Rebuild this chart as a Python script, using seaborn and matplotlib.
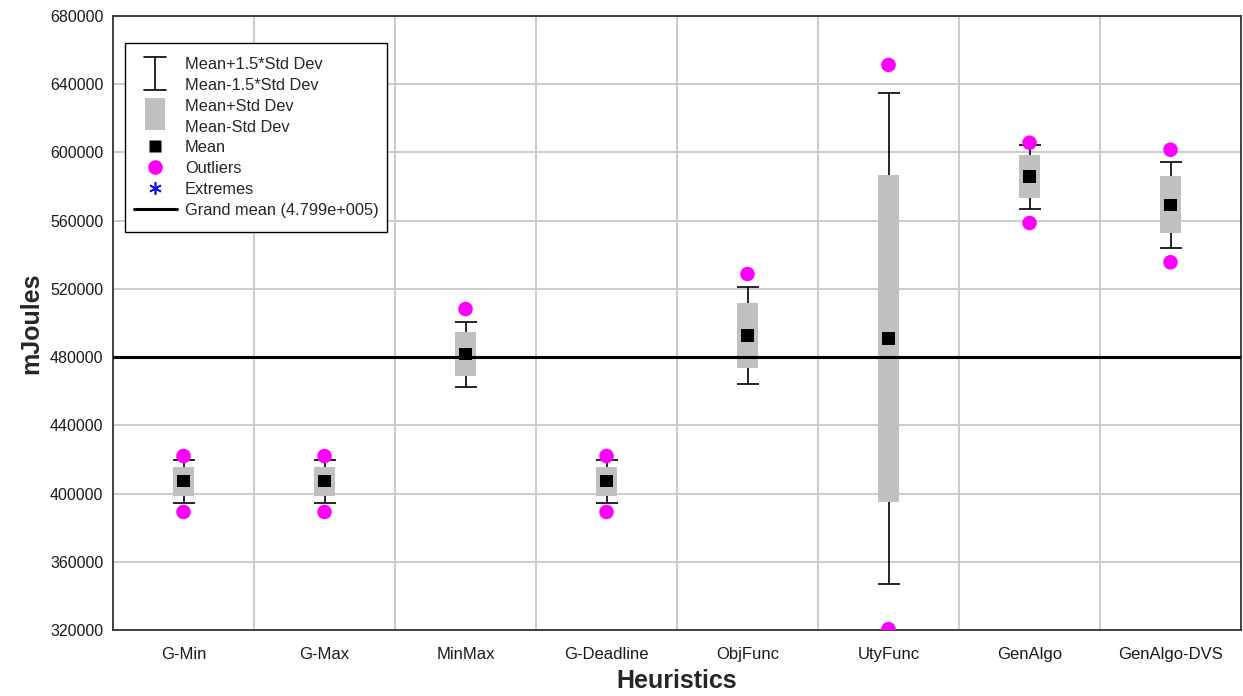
import numpy as np
import pandas as pd
import matplotlib
matplotlib.use("Agg")
import matplotlib.pyplot as plt
import seaborn as sns
from matplotlib.legend_handler import HandlerBase
from matplotlib.lines import Line2D
from matplotlib.patches import Rectangle
from matplotlib.path import Path

# ---------------- data ----------------
categories = ['G-Min', 'G-Max', 'MinMax', 'G-Deadline', 'ObjFunc', 'UtyFunc', 'GenAlgo', 'GenAlgo-DVS']
means = [407200, 407200, 481800, 407200, 492700, 490800, 585800, 569200]
std_devs = [8500, 8500, 12700, 8500, 18800, 95900, 12500, 16700]
outlier_cats = ['G-Min', 'G-Min', 'G-Max', 'G-Max', 'MinMax', 'G-Deadline', 'G-Deadline',
                'ObjFunc', 'UtyFunc', 'UtyFunc', 'GenAlgo', 'GenAlgo', 'GenAlgo-DVS', 'GenAlgo-DVS']
outlier_vals = [422000, 389200, 422000, 389200, 508200, 422000, 389200,
                528700, 651300, 320500, 605700, 558600, 601600, 535600]
grand_mean = 479900
y_ticks = [320000, 360000, 400000, 440000, 480000, 520000, 560000, 600000, 640000, 680000]

# ---------------- style ----------------
sns.set_style("white")
plt.rcParams['font.family'] = ['Liberation Sans', 'DejaVu Sans']

pos = {c: i for i, c in enumerate(categories)}
df = pd.DataFrame({'cat': categories, 'x': np.arange(len(categories)),
                   'mean': means, 'std': std_devs})
df['lo'] = df['mean'] - df['std']
df['hi'] = df['mean'] + df['std']
out_df = pd.DataFrame({'cat': outlier_cats, 'val': outlier_vals})
out_df['x'] = out_df['cat'].map(pos)

fig = plt.figure(figsize=(12.43, 6.96), dpi=100)
ax = fig.add_axes([113 / 1243, 1 - 630 / 696, (1241 - 113) / 1243, (630 - 16) / 696])

box_color = '#c0c0c0'
# whiskers: mean +/- 1.5 std
ax.errorbar(df['x'], df['mean'], yerr=1.5 * df['std'], fmt='none', ecolor='black',
            elinewidth=1.2, capsize=7.6, capthick=1.2, zorder=2)
# boxes: mean +/- std
ax.bar(df['x'], df['hi'] - df['lo'], bottom=df['lo'], width=0.15,
       color=box_color, edgecolor='none', zorder=3)
# grand mean
ax.axhline(grand_mean, color='black', lw=2.2, zorder=3.5)
# means
sns.scatterplot(data=df, x='x', y='mean', marker='s', s=80, color='black',
                edgecolor='none', ax=ax, zorder=5, legend=False)
# outliers
sns.scatterplot(data=out_df, x='x', y='val', marker='o', s=110, color='#ff00ff',
                edgecolor='none', ax=ax, zorder=5, legend=False)

ax.set_xlim(-0.5, len(categories) - 0.5)
ax.set_ylim(y_ticks[0], y_ticks[-1])
ax.set_yticks(y_ticks)
ax.set_yticklabels([str(v) for v in y_ticks])
ax.set_xticks(np.arange(len(categories)))
ax.set_xticklabels(categories)
ax.set_xticks(np.arange(len(categories) - 1) + 0.5, minor=True)
ax.grid(False)
ax.yaxis.grid(True, which='major', color='#c8c8c8', lw=1.3)
ax.xaxis.grid(True, which='minor', color='#c8c8c8', lw=1.3)
ax.set_axisbelow(True)
ax.tick_params(axis='both', which='both', length=0, colors='#1a1a1a')
ax.tick_params(axis='x', pad=12, labelsize=12)
ax.tick_params(axis='y', pad=7, labelsize=11.5)
for s in ax.spines.values():
    s.set_color('#333333')
    s.set_linewidth(1.3)

ax.set_xlabel('Heuristics', fontsize=18, fontweight='bold', labelpad=5)
ax.set_ylabel('mJoules', fontsize=18, fontweight='bold', labelpad=5)

LEG_FS = 11.8
LEG_LS = 0.30


# ---------------- legend ----------------
class SpanHandler(HandlerBase):
    def __init__(self, kind):
        super().__init__()
        self.kind = kind

    def create_artists(self, legend, orig_handle, xdescent, ydescent, width, height, fontsize, trans):
        p = (1.04 + legend.labelspacing) * fontsize
        cx = -xdescent + width / 2
        cy = -ydescent + height / 2
        hw = 7.8
        if self.kind == 'whisker':
            top = cy + 0.28 * p
            bot = cy - p - 0.22 * p
            arts = [Line2D([cx, cx], [bot, top]),
                    Line2D([cx - hw, cx + hw], [top, top]),
                    Line2D([cx - hw, cx + hw], [bot, bot])]
            for a in arts:
                a.set_color('black')
                a.set_linewidth(1.2)
                a.set_transform(trans)
            return arts
        elif self.kind == 'box':
            top = cy + 0.3 * p
            bot = cy - p - 0.12 * p
            r = Rectangle((cx - 7.2, bot), 14.4, top - bot, facecolor=box_color,
                          edgecolor='none', transform=trans)
            return [r]
        blank = Line2D([cx], [cy], ls='none', marker='none')
        blank.set_visible(False)
        blank.set_transform(trans)
        return [blank]


class Blank:
    pass


def tall_frame(x0, y0, width, height, mutation_size):
    # square frame with a little extra room above and below the entries
    top = y0 + height + 0.245 * mutation_size
    bot = y0 - 0.30 * mutation_size
    return Path([(x0, bot), (x0 + width, bot), (x0 + width, top), (x0, top), (x0, bot)],
                closed=True)


h_wh, h_wh2, h_bx, h_bx2 = Blank(), Blank(), Blank(), Blank()
h_mean = Line2D([], [], ls='none', marker='s', ms=9, color='black', mec='none')
h_out = Line2D([], [], ls='none', marker='o', ms=10.5, color='#ff00ff', mec='none')
h_ext = Line2D([], [], ls='none', marker=(6, 2, 0), ms=9, color='#1010e0', mew=1.2)
h_gm = Line2D([], [], color='black', lw=2.2)
handles = [h_wh, h_wh2, h_bx, h_bx2, h_mean, h_out, h_ext, h_gm]
labels = ['Mean+1.5*Std Dev', 'Mean-1.5*Std Dev', 'Mean+Std Dev', 'Mean-Std Dev',
          'Mean', 'Outliers', 'Extremes', 'Grand mean (4.799e+005)']
leg = ax.legend(handles, labels,
                handler_map={h_wh: SpanHandler('whisker'), h_wh2: SpanHandler('none'),
                             h_bx: SpanHandler('box'), h_bx2: SpanHandler('none')},
                loc='upper left', bbox_to_anchor=(12 / 1128, 1 - 31 / 614),
                borderaxespad=0, fontsize=LEG_FS, handlelength=2.6, handleheight=1.0,
                labelspacing=LEG_LS, handletextpad=0.5, borderpad=0.55,
                frameon=True, fancybox=False, framealpha=1, edgecolor='black')
leg.get_frame().set_linewidth(1.0)
leg.get_frame().set_boxstyle(tall_frame)
leg.set_zorder(10)

fig.savefig('out.png', dpi=100)
